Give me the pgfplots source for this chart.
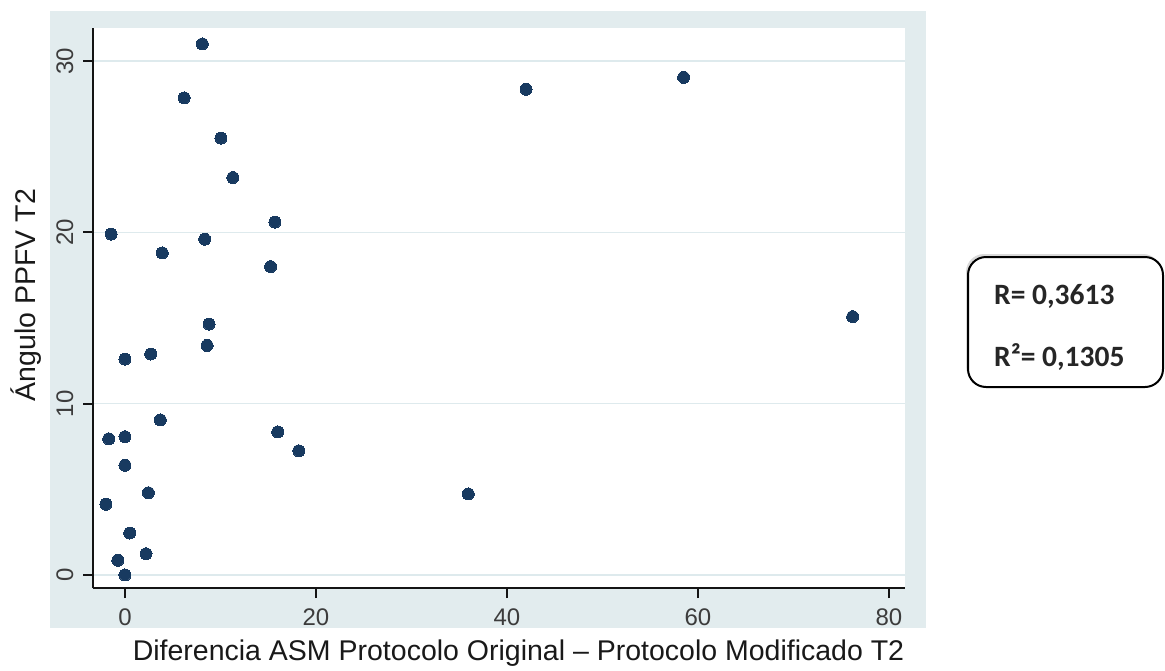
\documentclass[border=0pt]{standalone}
\usepackage{fontspec}
\setmainfont{Liberation Sans}
\newfontfamily\calibri{Carlito}
\usepackage{pgfplots}
\pgfplotsset{compat=1.18}
\usetikzlibrary{shadows}
\definecolor{bgc}{RGB}{226,236,238}
\definecolor{gridc}{RGB}{222,234,237}
\definecolor{navy}{RGB}{24,58,96}
\definecolor{tickc}{RGB}{60,60,60}
\definecolor{axc}{RGB}{20,20,20}

\begin{document}
\begin{tikzpicture}[x=1pt,y=1pt]
\useasboundingbox (0,0) rectangle (1165,-670);
\fill[bgc] (50,-11) rectangle (926,-628);
\begin{axis}[
  at={(93pt,-588pt)}, anchor=south west,
  scale only axis, width=812pt, height=560pt,
  xmin=-3.35, xmax=81.68, ymin=-0.76, ymax=31.93,
  axis background/.style={fill=white},
  axis x line*=bottom, axis y line*=left,
  axis line style={line width=2.2pt, color=axc, -},
  xtick={0,20,40,60,80}, ytick={0,10,20,30},
  tick align=outside,
  major tick length=10pt,
  every tick/.style={line width=2pt, axc},
  ymajorgrids, grid style={line width=1.6pt, gridc},
  /pgf/number format/assume math mode=true,
  xticklabel style={font=\fontsize{24}{28}\selectfont, text=tickc, anchor=base, inner sep=0pt},
  yticklabel style={font=\fontsize{24}{28}\selectfont, text=tickc, rotate=90, anchor=base, inner sep=0pt},
  xticklabel shift=27pt,
  yticklabel shift=10pt,
  every axis x label/.style={at={([xshift=19.5pt,yshift=-72pt]axis description cs:0.5,0)}, anchor=base, inner sep=0pt, font=\fontsize{28.5}{32}\selectfont, text=black!90},
  every axis y label/.style={at={([xshift=-57pt,yshift=13pt]axis description cs:0,0.5)}, rotate=90, anchor=base, inner sep=0pt, font=\fontsize{28.5}{32}\selectfont, text=black!90},
  xlabel={Diferencia ASM Protocolo Original – Protocolo Modificado T2},
  ylabel={Ángulo PPFV T2},
]
\addplot[only marks, mark=*, mark size=6pt, mark options={fill=navy, draw=navy, line width=0pt}] coordinates {
(8.1,31.0) (6.2,27.85) (10.05,25.5) (11.3,23.2) (-1.45,19.9) (8.35,19.6)
(3.9,18.8) (15.7,20.6) (15.25,18.0) (8.8,14.65) (8.6,13.4) (0.0,12.6)
(2.7,12.9) (3.7,9.05) (-1.7,7.95) (0.0,8.07) (16.0,8.35) (18.2,7.25)
(0.0,6.4) (2.45,4.8) (-2.0,4.13) (0.5,2.45) (-0.75,0.86) (2.2,1.24)
(0.0,0.0) (42.0,28.35) (58.5,29.05) (76.2,15.08) (35.95,4.73)
};
\end{axis}
\draw[line width=2pt, rounded corners=18pt, fill=white,
  drop shadow={shadow xshift=-2pt, shadow yshift=3pt, opacity=0.3, fill=black!50}]
  (968,-257) rectangle (1163,-387);
\node[anchor=base west, inner sep=0pt, font=\calibri\bfseries\fontsize{29.5}{32}\selectfont, text=black!85] at (994,-304) {R= 0,3613};
\node[anchor=base west, inner sep=0pt, font=\calibri\bfseries\fontsize{29.5}{32}\selectfont, text=black!85] at (994,-366) {R²= 0,1305};
\end{tikzpicture}
\end{document}
